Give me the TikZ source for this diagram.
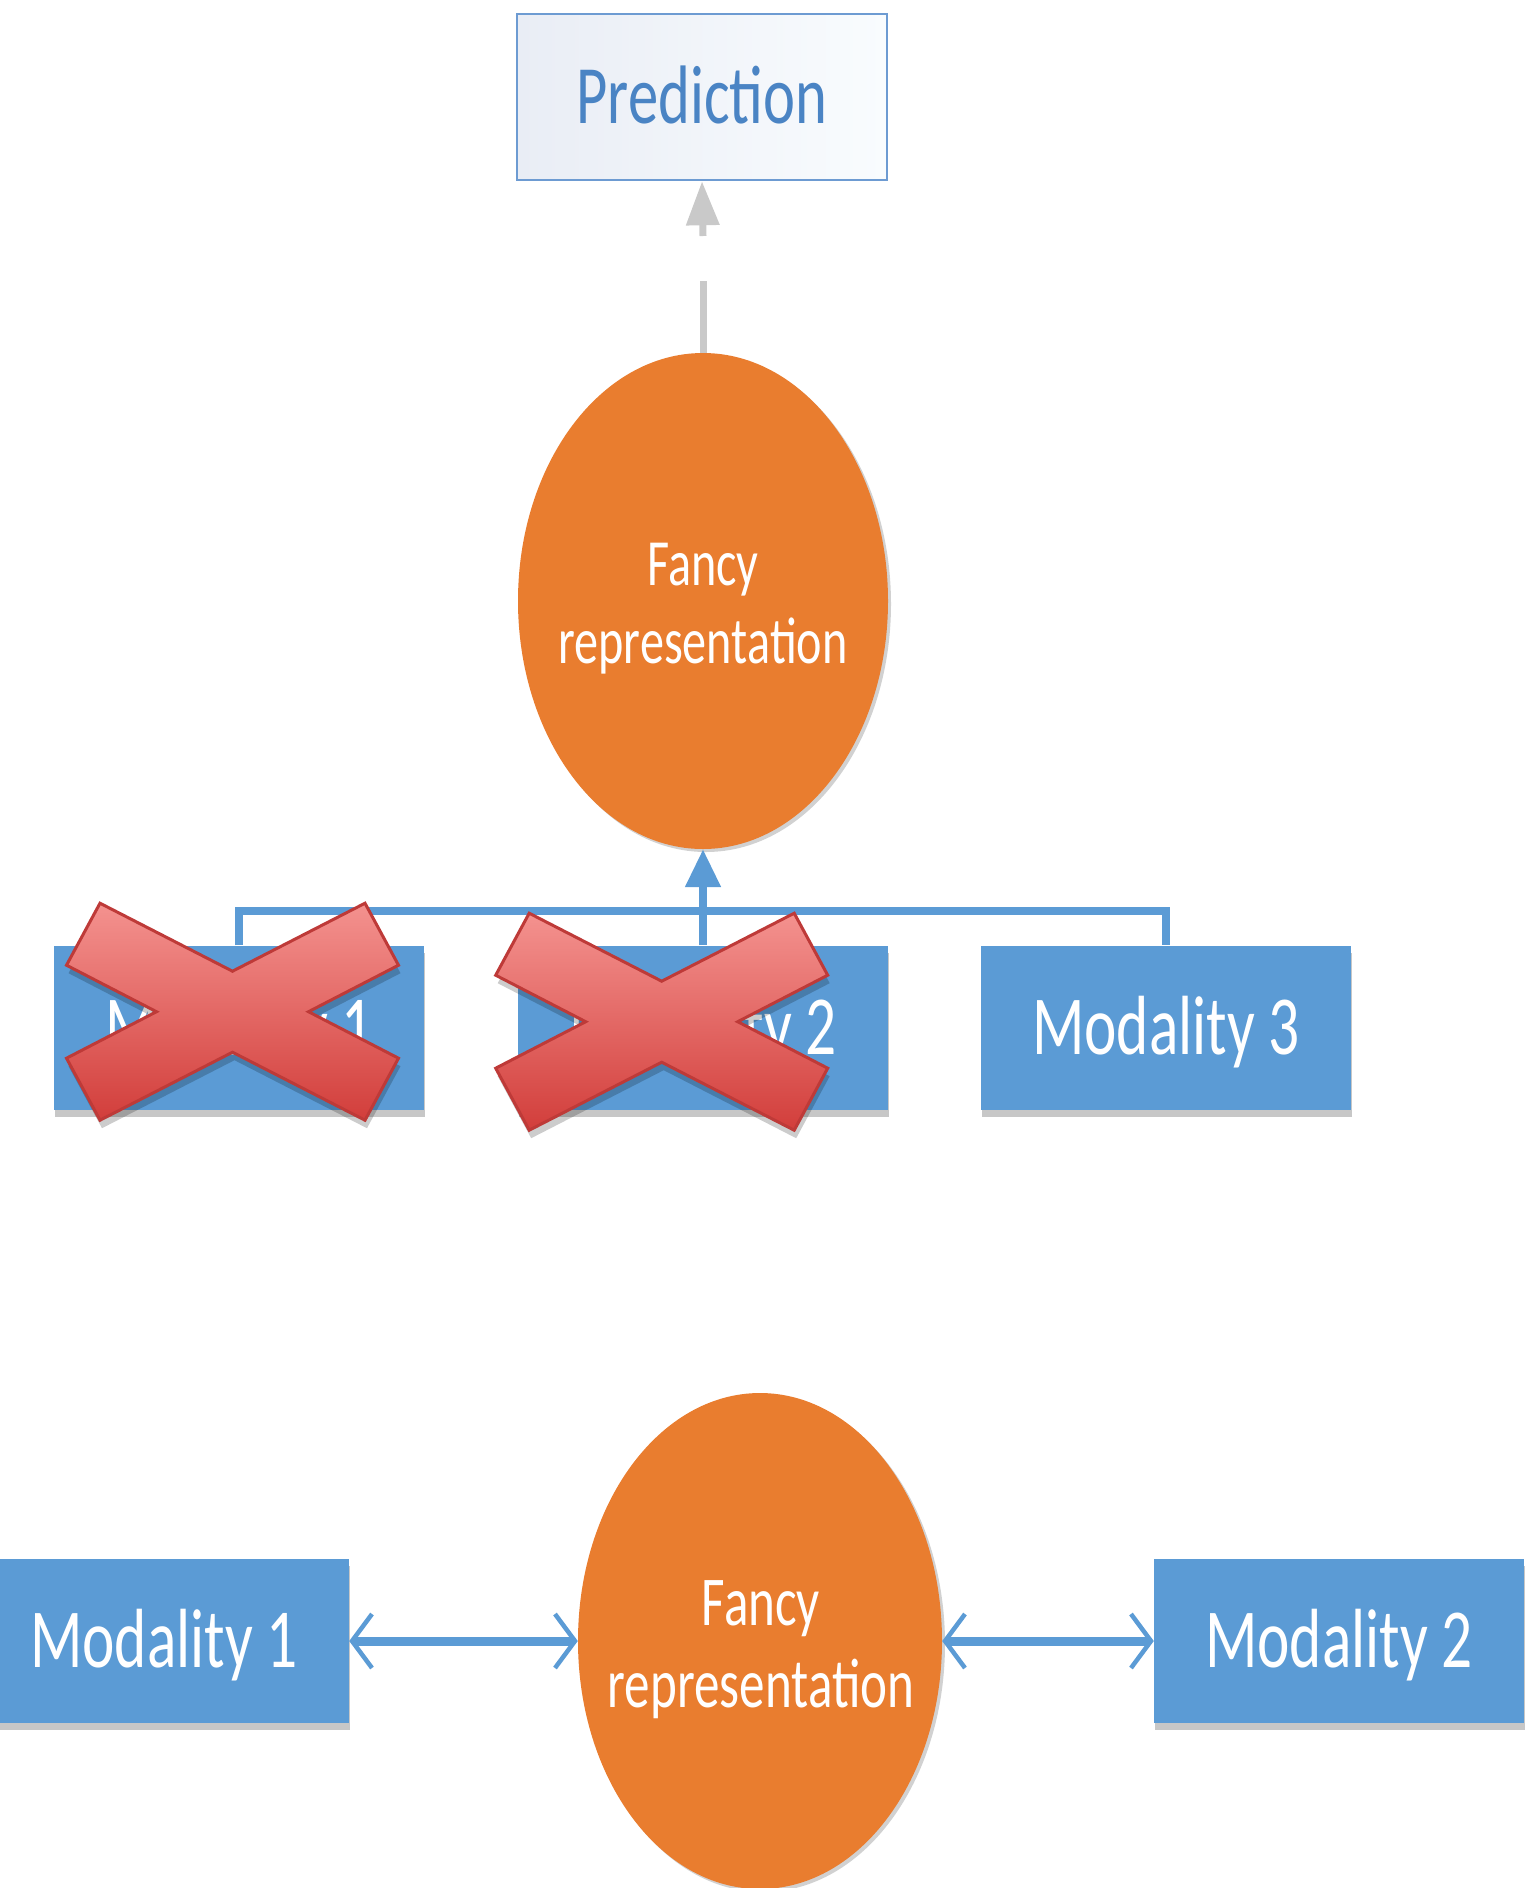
\documentclass[tikz,border=0pt]{standalone}
\usepackage{fontspec}
\newfontfamily\slidefont[FakeStretch=0.73]{Carlito}
\usetikzlibrary{arrows.meta,shapes.geometric,shadows}

\definecolor{modblue}{HTML}{5B9BD5}
\definecolor{fancyorange}{HTML}{E97D2F}
\definecolor{predtext}{HTML}{4A84C4}
\definecolor{predborder}{HTML}{6D9BD2}
\definecolor{predfillA}{HTML}{E9EDF5}
\definecolor{predfillB}{HTML}{F9FCFE}
\definecolor{arrowgrey}{HTML}{C9C9C9}
\definecolor{crosstop}{HTML}{F4928F}
\definecolor{crossbottom}{HTML}{D23E3B}
\definecolor{crossedge}{HTML}{BE3A38}

\tikzset{
  softshadow/.style={drop shadow={shadow xshift=1pt, shadow yshift=-7pt, fill=black, opacity=0.22}},
  modbox/.style={rectangle, fill=modblue, minimum width=370pt, minimum height=164pt,
    inner sep=0pt, text=white, font={\slidefont\fontsize{84pt}{100pt}\selectfont},
    text height=53pt, text depth=0pt, softshadow},
  fancy/.style={ellipse, fill=fancyorange, inner sep=0pt,
    drop shadow={shadow xshift=3pt, shadow yshift=-3pt, fill=black, opacity=0.18}},
  fancytext/.style={inner sep=0pt, text=white},
  predbox/.style={rectangle, draw=predborder, line width=2.5pt, left color=predfillA,
    right color=predfillB, minimum width=370pt, minimum height=166pt, inner sep=0pt,
    text=predtext, font={\slidefont\fontsize{83pt}{100pt}\selectfont},
    text height=52pt, text depth=0pt},
  busline/.style={draw=modblue, line width=8pt},
  greyline/.style={draw=arrowgrey, line width=7pt},
  twoway/.style={draw=modblue, line width=9pt,
    {Straight Barb[length=20pt,width=54pt,line width=4.5pt]}-{Straight Barb[length=20pt,width=54pt,line width=4.5pt]}},
  pics/redcross/.style={code={
    \path[draw=crossedge, line width=3pt, top color=crosstop, bottom color=crossbottom,
      drop shadow={shadow xshift=2pt, shadow yshift=-8pt, fill=black, opacity=0.2}]
      (-132.5,-108.5) -- (0,-40.5) -- (132.5,-108.5) -- (166,-46.5) -- (76,0) -- (166,46.5)
      -- (132.5,108.5) -- (0,40.5) -- (-132.5,108.5) -- (-166,46.5) -- (-76,0) -- (-166,-46.5) -- cycle;
  }}
}

\begin{document}
\begin{tikzpicture}[x=1pt,y=-1pt]
\clip (0,0) rectangle (1536,1888);
\path[use as bounding box] (0,0) rectangle (1536,1888);

% upper diagram: late fusion into a prediction
\node[predbox] (pred) at (702,97) {Prediction};
\node[fancy, minimum width=370pt, minimum height=496pt] (ftop) at (703,601) {};
\node[fancytext, font={\slidefont\fontsize{66pt}{78pt}\selectfont}] (ftoptext) at (703,609)
  {\begin{tabular}{@{}c@{}}Fancy\\representation\end{tabular}};
\node[modbox] (m1t) at (239,1027.5) {Modality 1};
\node[modbox] (m2t) at (703,1027.5) {Modality 2};
\node[modbox] (m3t) at (1166,1027.5) {Modality 3};

\coordinate (bus) at (703,911);
\draw[busline] (m1t.north) |- (bus) -| (m3t.north);
\draw[busline, -{Triangle[length=38pt,width=34pt]}] (m2t.north) -- (ftop.south);

\coordinate (gstubA) at (703,281);
\coordinate (gstubB) at (703,236);
\draw[greyline] (ftop.north) -- (gstubA);
\draw[greyline, -{Triangle[length=44pt,width=32pt]}] (gstubB) -- (pred.south);

% missing modalities
\pic at (232.5,1011.7) {redcross};
\pic at (661.7,1021.7) {redcross};

% lower diagram: coordinated representation
\node[fancy, minimum width=364pt, minimum height=496pt] (fbot) at (760,1641) {};
\node[fancytext, font={\slidefont\fontsize{70pt}{82pt}\selectfont}] (fbottext) at (761,1650)
  {\begin{tabular}{@{}c@{}}Fancy\\representation\end{tabular}};
\node[modbox] (m1b) at (164,1641) {Modality 1};
\node[modbox] (m2b) at (1339,1641) {Modality 2};

\draw[twoway] (m1b.east) -- (fbot.west);
\draw[twoway] (fbot.east) -- (m2b.west);
\end{tikzpicture}
\end{document}
